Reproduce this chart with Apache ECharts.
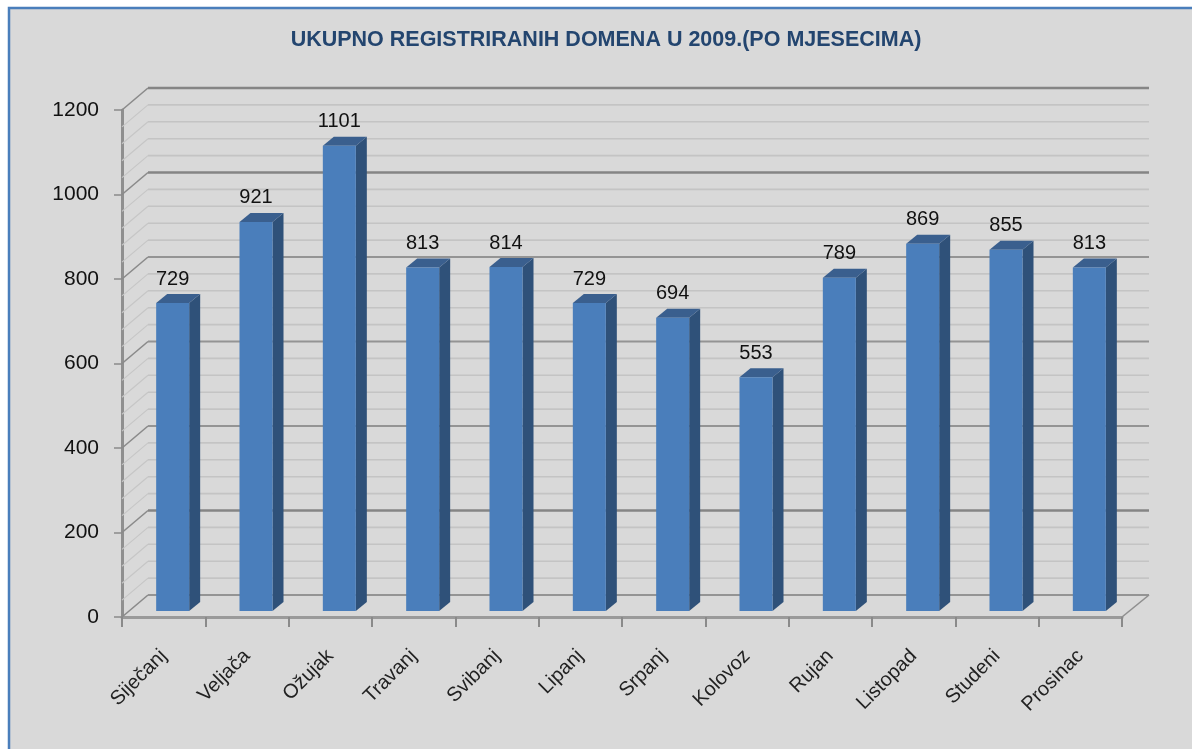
<!DOCTYPE html>
<html><head><meta charset="utf-8">
<style>html,body{margin:0;padding:0;background:#fff}#chart{width:1192px;height:749px}</style>
<script src="https://cdn.jsdelivr.net/npm/echarts@6/dist/echarts.min.js"></script>
</head><body><div id="chart"></div>
<script>
const titleText = 'UKUPNO REGISTRIRANIH DOMENA U 2009.(PO MJESECIMA)';
const months = ['Siječanj','Veljača','Ožujak','Travanj','Svibanj','Lipanj','Srpanj','Kolovoz','Rujan','Listopad','Studeni','Prosinac'];
const domains = [729,921,1101,813,814,729,694,553,789,869,855,813];
const yTicks = [0,200,400,600,800,1000,1200];
const minorLevels = [40,80,120,160,240,280,320,360,440,480,520,560,640,680,720,760,840,880,920,960,1040,1080,1120,1160];
const heavyLevels = [200,1000,1200];

const wallDX = 26, wallDY = -22, barDX = 9, barDY = -6, sideDX = 11, sideDY = -9;

function wallItem(isMajor) {
  return function (params, api) {
    const rect = params.coordSys;
    const y = api.coord([0, api.value(0)])[1];
    const heavy = heavyLevels.indexOf(api.value(0)) >= 0;
    const color = isMajor ? (heavy ? '#858585' : '#949494') : '#c4c4c4';
    const w = isMajor ? (heavy ? 2.5 : 2) : 1.6;
    const x0 = rect.x, x1 = rect.x + rect.width;
    return { type: 'group', children: [
      { type: 'line', shape: { x1: x0, y1: y, x2: x0 + wallDX, y2: y + wallDY },
        style: { stroke: isMajor ? '#8a8a8a' : '#c6c6c6', lineWidth: isMajor ? 1.6 : 1.2, fill: null } },
      { type: 'line', shape: { x1: x0 + wallDX, y1: y + wallDY, x2: x1 + wallDX + 1, y2: y + wallDY },
        style: { stroke: color, lineWidth: w, fill: null } }
    ]};
  };
}

const option = {
  animation: false,
  backgroundColor: '#ffffff',
  textStyle: { fontFamily: 'Liberation Sans' },
  title: { text: titleText, left: 601, top: 24, textAlign: 'center',
    textStyle: { color: '#23456f', fontSize: 21.5, fontWeight: 'bold', fontFamily: 'Liberation Sans' } },
  graphic: [{ type: 'rect', z: -10, silent: true, shape: { x: 9, y: 8, width: 1300, height: 900 },
    style: { fill: '#d9d9d9', stroke: '#4a7ebb', lineWidth: 2.5 } }],
  grid: { left: 122, right: 70, top: 110, bottom: 132, containLabel: false },
  xAxis: { type: 'category', data: months, boundaryGap: true,
    axisLine: { lineStyle: { color: '#9a9a9a', width: 3 } },
    axisTick: { show: true, alignWithLabel: false, length: 10, lineStyle: { color: '#8a8a8a', width: 2 } },
    axisLabel: { rotate: 45, interval: 0, margin: 36, fontSize: 20, color: '#222' } },
  yAxis: { type: 'value', min: 0, max: 1200, interval: 200,
    axisLine: { show: true, lineStyle: { color: '#8f8f8f', width: 3 } },
    axisTick: { show: true, length: 8, lineStyle: { color: '#8a8a8a', width: 1.5 } },
    splitLine: { show: false },
    axisLabel: { margin: 23, fontSize: 21, color: '#111', formatter: v => String(v) } },
  series: [
    { type: 'custom', name: 'minor', z: 1, clip: false, silent: true, encode: { y: 0 },
      data: minorLevels.map(v => [v]), renderItem: wallItem(false) },
    { type: 'custom', name: 'major', z: 2, clip: false, silent: true, encode: { y: 0 },
      data: yTicks.map(v => [v]), renderItem: wallItem(true) },
    { type: 'custom', name: 'floor', z: 2, clip: false, silent: true, encode: { y: 0 },
      data: [[0]],
      renderItem(params, api) {
        const rect = params.coordSys;
        const y = api.coord([0, api.value(0)])[1];
        const x1 = rect.x + rect.width;
        return { type: 'line', shape: { x1: x1, y1: y, x2: x1 + wallDX + 1, y2: y + wallDY },
          style: { stroke: '#8f8f8f', lineWidth: 1.6, fill: null } };
      } },
    { type: 'custom', name: 'Domene', z: 5, clip: false, encode: { x: 0, y: 1 },
      data: domains.map((v, i) => [i, v]),
      renderItem(params, api) {
        const top = api.coord([api.value(0), api.value(1)]);
        const base = api.coord([api.value(0), 0]);
        const hw = 16.5;
        const l = top[0] + barDX - hw, r = top[0] + barDX + hw;
        const t = top[1] + barDY, b = base[1] + barDY;
        return { type: 'group', children: [
          { type: 'polygon', shape: { points: [[r, t], [r + sideDX, t + sideDY], [r + sideDX, b + sideDY], [r, b]] },
            style: { fill: '#2f5179' } },
          { type: 'polygon', shape: { points: [[l, t], [l + sideDX, t + sideDY], [r + sideDX, t + sideDY], [r, t]] },
            style: { fill: '#3a5f8e' } },
          { type: 'rect', shape: { x: l, y: t, width: r - l, height: b - t }, style: { fill: '#4a7ebb' } },
          { type: 'text', style: { x: top[0] + barDX, y: t - 24, text: String(api.value(1)),
              align: 'center', verticalAlign: 'middle', fontSize: 20, fill: '#111', fontFamily: 'Liberation Sans' } }
        ]};
      } }
  ]
};
echarts.init(document.getElementById('chart'), null, { renderer: 'canvas' }).setOption(option);
</script></body></html>
